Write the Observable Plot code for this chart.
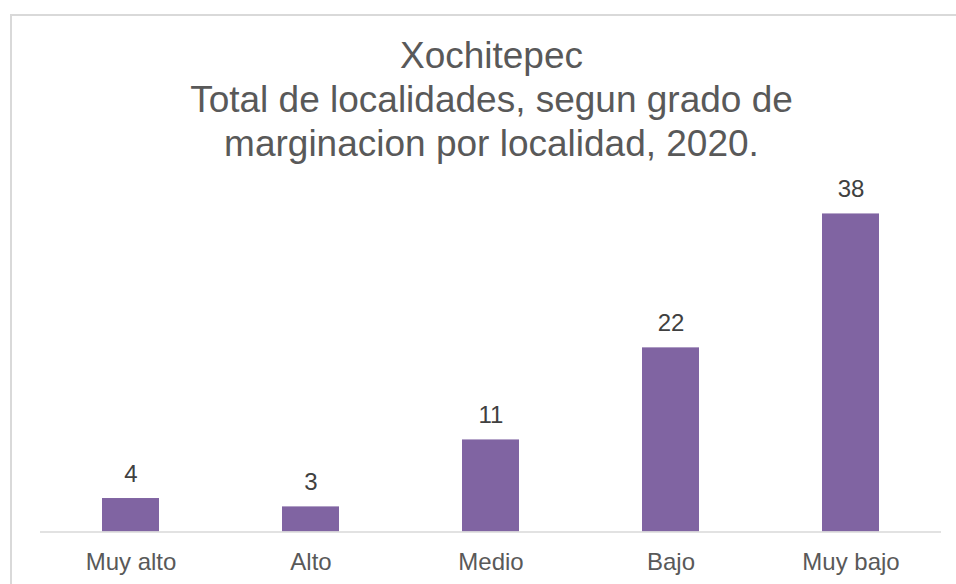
<!DOCTYPE html>
<html>
<head>
<meta charset="utf-8">
<script src="https://cdn.jsdelivr.net/npm/d3@7"></script>
<script src="https://cdn.jsdelivr.net/npm/@observablehq/plot@0.6"></script>
<style>
  html, body { margin: 0; padding: 0; background: #fff; overflow: hidden; width: 956px; height: 584px; }
  #wrap { position: relative; width: 956px; height: 584px; overflow: hidden; font-family: "Liberation Sans", Arial, sans-serif; }
  #border { position: absolute; left: 10px; top: 14px; width: 1000px; height: 1000px; border: 2px solid #d9d9d9; box-sizing: border-box; }
  #title { position: absolute; left: 0; top: 33.7px; width: 983px; text-align: center; font-size: 37px; line-height: 44px; color: #595959; }
  #chart { position: absolute; left: 0; top: 170px; }
</style>
</head>
<body>
<div id="wrap">
  <div id="border"></div>
  <div id="title">Xochitepec<br>Total de localidades, segun grado de<br>marginacion por localidad, 2020.</div>
  <div id="chart"></div>
</div>
<script>
const categories = ["Muy alto", "Alto", "Medio", "Bajo", "Muy bajo"];
const values = [4, 3, 11, 22, 38];

const data = categories.map((c, i) => ({grado: c, total: values[i]}));

const chart = Plot.plot({
  width: 956,
  height: 414,
  marginLeft: 40,
  marginRight: 15,
  marginTop: 26.7,
  marginBottom: 52.5,
  style: {fontFamily: "'Liberation Sans', Arial, sans-serif", background: "transparent"},
  x: {domain: categories, paddingInner: 0.686, paddingOuter: 0.343, label: null},
  y: {domain: [0, 40], axis: null},
  marks: [
    Plot.barY(data, {x: "grado", y: "total", fill: "#8064A2"}),
    Plot.ruleY([0], {stroke: "#d9d9d9", strokeWidth: 1.5}),
    Plot.text(data, {x: "grado", y: "total", text: d => String(d.total), dy: -24.3, fontSize: 24, fill: "#404040"}),
    Plot.axisX({tickSize: 0, tickPadding: 20.5, fontSize: 24, color: "#595959", label: null})
  ]
});
document.getElementById("chart").appendChild(chart);
</script>
</body>
</html>
